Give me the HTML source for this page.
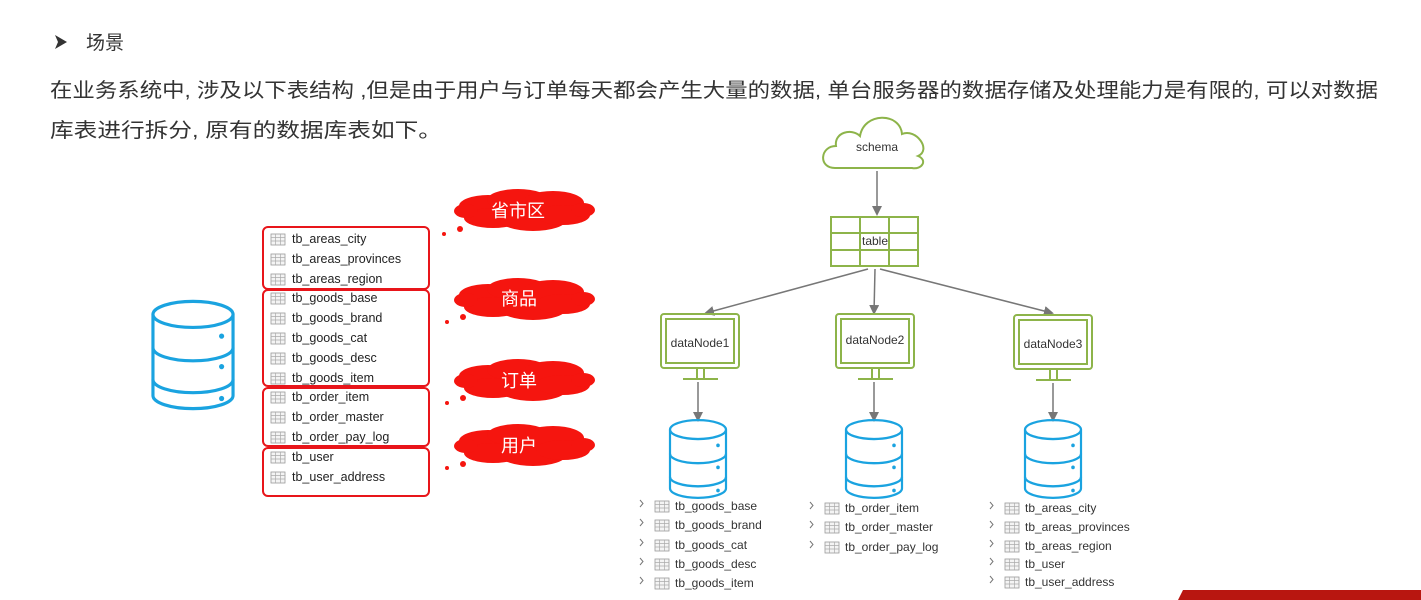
<!DOCTYPE html>
<html><head><meta charset="utf-8"><style>
html,body{margin:0;padding:0;background:#fff;width:1421px;height:600px;overflow:hidden}
svg{display:block}
.cn{font-family:"Liberation Sans","Noto Sans CJK SC",sans-serif}
.t{font-family:"Liberation Sans","Noto Sans CJK SC",sans-serif;font-size:12.5px;fill:#222}
.s{font-family:"Liberation Sans",sans-serif;font-size:12px;fill:#333}
</style></head><body>
<svg width="1421" height="600" viewBox="0 0 1421 600" xmlns="http://www.w3.org/2000/svg">
<defs>
<g id="ic"><rect x="0" y="-9" width="14" height="11" fill="#f4f4f4" stroke="#999" stroke-width="0.8"/><path d="M0 -5.5H14M0 -2H14M4.5 -9V2M9.5 -9V2" stroke="#aaa" stroke-width="0.7"/></g>
<g id="db" fill="none" stroke="#1aa3e0" stroke-width="2.2">
<path d="M-28 -28V28A28 9 0 0 0 28 28V-28"/><ellipse cx="0" cy="-28" rx="28" ry="9"/>
<path d="M-28 -5A28 9 0 0 0 28 -5M-28 17A28 9 0 0 0 28 17"/>
<circle cx="20" cy="-13" r="1.8" fill="#1aa3e0" stroke="none"/><circle cx="20" cy="8" r="1.8" fill="#1aa3e0" stroke="none"/><circle cx="20" cy="30" r="1.8" fill="#1aa3e0" stroke="none"/>
</g>
<g id="rc" fill="#f5150f">
<ellipse cx="0" cy="0" rx="60" ry="13"/><ellipse cx="-35" cy="-4" rx="29" ry="11"/><ellipse cx="-5" cy="-10" rx="31" ry="11"/><ellipse cx="30" cy="-7" rx="31" ry="12"/><ellipse cx="-30" cy="8" rx="29" ry="10"/><ellipse cx="10" cy="10" rx="33" ry="11"/><ellipse cx="40" cy="5" rx="27" ry="10"/><ellipse cx="-57" cy="1" rx="12" ry="7"/><ellipse cx="60" cy="0" rx="12" ry="7"/>
</g>
<g id="mon" fill="none" stroke="#8db44a" stroke-width="2">
<rect x="0" y="0" width="78" height="54" rx="3"/><rect x="5" y="5" width="68" height="44"/>
<path d="M36 54V64M43 54V64M22 65H57"/>
</g>
<marker id="ar" markerWidth="10" markerHeight="10" refX="8" refY="5" orient="auto" markerUnits="userSpaceOnUse"><path d="M0 0L10 5L0 10z" fill="#777"/></marker>
</defs>

<path d="M55 35L67 42L55 49L58 42z" fill="#333"/>
<text x="86" y="49" class="cn" font-size="19" fill="#333">场景</text>
<text x="50" y="97" class="cn" font-size="20" fill="#333" textLength="1328" lengthAdjust="spacingAndGlyphs">在业务系统中, 涉及以下表结构 ,但是由于用户与订单每天都会产生大量的数据, 单台服务器的数据存储及处理能力是有限的, 可以对数据</text>
<text x="50" y="137" class="cn" font-size="20" fill="#333" textLength="392" lengthAdjust="spacingAndGlyphs">库表进行拆分, 原有的数据库表如下。</text>

<use href="#db" transform="translate(193,355) scale(1.43,1.45)"/>

<g fill="none" stroke="#e8151a" stroke-width="2">
<rect x="263" y="227" width="166" height="62" rx="5"/>
<rect x="263" y="290" width="166" height="96" rx="5"/>
<rect x="263" y="388" width="166" height="58" rx="5"/>
<rect x="263" y="448" width="166" height="48" rx="5"/>
</g>
<g>
<use href="#ic" x="271" y="243"/><text x="292" y="243" class="t">tb_areas_city</text>
<use href="#ic" x="271" y="263"/><text x="292" y="263" class="t">tb_areas_provinces</text>
<use href="#ic" x="271" y="283"/><text x="292" y="283" class="t">tb_areas_region</text>
<use href="#ic" x="271" y="302"/><text x="292" y="302" class="t">tb_goods_base</text>
<use href="#ic" x="271" y="322"/><text x="292" y="322" class="t">tb_goods_brand</text>
<use href="#ic" x="271" y="342"/><text x="292" y="342" class="t">tb_goods_cat</text>
<use href="#ic" x="271" y="362"/><text x="292" y="362" class="t">tb_goods_desc</text>
<use href="#ic" x="271" y="382"/><text x="292" y="382" class="t">tb_goods_item</text>
<use href="#ic" x="271" y="401"/><text x="292" y="401" class="t">tb_order_item</text>
<use href="#ic" x="271" y="421"/><text x="292" y="421" class="t">tb_order_master</text>
<use href="#ic" x="271" y="441"/><text x="292" y="441" class="t">tb_order_pay_log</text>
<use href="#ic" x="271" y="461"/><text x="292" y="461" class="t">tb_user</text>
<use href="#ic" x="271" y="481"/><text x="292" y="481" class="t">tb_user_address</text>
</g>

<use href="#rc" x="523" y="210"/><use href="#rc" x="523" y="299"/><use href="#rc" x="523" y="380"/><use href="#rc" x="523" y="445"/>
<g fill="#f5150f">
<circle cx="444" cy="234" r="2"/><circle cx="460" cy="229" r="3"/>
<circle cx="447" cy="322" r="2"/><circle cx="463" cy="317" r="3"/>
<circle cx="447" cy="403" r="2"/><circle cx="463" cy="398" r="3"/>
<circle cx="447" cy="468" r="2"/><circle cx="463" cy="464" r="3"/>
</g>
<g class="cn" font-size="18" fill="#fff" text-anchor="middle">
<text x="518" y="217">省市区</text><text x="519" y="305">商品</text><text x="519" y="387">订单</text><text x="519" y="452">用户</text>
</g>

<path d="M835 168 C818 168 820 146 836 146 C834 132 852 128 860 136 C864 112 900 112 902 134 C916 128 932 150 918 156 C928 160 922 170 912 168 Z" fill="#fff" stroke="#8db44a" stroke-width="2"/>
<text x="877" y="151" class="s" font-size="13" text-anchor="middle">schema</text>
<line x1="877" y1="171" x2="877" y2="214" stroke="#777" stroke-width="1.5" marker-end="url(#ar)"/>

<g fill="none" stroke="#8db44a" stroke-width="2">
<rect x="831" y="217" width="87" height="49"/>
<path d="M831 233H918M831 250H918M860 217V266M889 217V266"/>
</g>
<text x="875" y="245" class="s" font-size="13" text-anchor="middle">table</text>
<g stroke="#777" stroke-width="1.5" marker-end="url(#ar)">
<line x1="868" y1="269" x2="706" y2="313"/>
<line x1="875" y1="269" x2="874" y2="313"/>
<line x1="880" y1="269" x2="1052" y2="313"/>
</g>

<use href="#mon" x="661" y="314"/><use href="#mon" x="836" y="314"/><use href="#mon" x="1014" y="315"/>
<g class="s" font-size="13.5" text-anchor="middle">
<text x="700" y="347">dataNode1</text><text x="875" y="344">dataNode2</text><text x="1053" y="348">dataNode3</text>
</g>
<g stroke="#777" stroke-width="1.5" marker-end="url(#ar)">
<line x1="698" y1="382" x2="698" y2="420"/><line x1="874" y1="382" x2="874" y2="420"/><line x1="1053" y1="383" x2="1053" y2="420"/>
</g>
<use href="#db" transform="translate(698,459) scale(1,1.05)"/>
<use href="#db" transform="translate(874,459) scale(1,1.05)"/>
<use href="#db" transform="translate(1053,459) scale(1,1.05)"/>

<g fill="none" stroke="#777" stroke-width="1">
<path d="M640 500l3 3.5l-3 3.5M640 519l3 3.5l-3 3.5M640 539l3 3.5l-3 3.5M640 558l3 3.5l-3 3.5M640 577l3 3.5l-3 3.5"/>
<path d="M810 502l3 3.5l-3 3.5M810 521l3 3.5l-3 3.5M810 541l3 3.5l-3 3.5"/>
<path d="M990 502l3 3.5l-3 3.5M990 521l3 3.5l-3 3.5M990 540l3 3.5l-3 3.5M990 558l3 3.5l-3 3.5M990 576l3 3.5l-3 3.5"/>
</g>
<g>
<use href="#ic" x="655" y="510"/><text x="675" y="510" class="s">tb_goods_base</text>
<use href="#ic" x="655" y="529"/><text x="675" y="529" class="s">tb_goods_brand</text>
<use href="#ic" x="655" y="549"/><text x="675" y="549" class="s">tb_goods_cat</text>
<use href="#ic" x="655" y="568"/><text x="675" y="568" class="s">tb_goods_desc</text>
<use href="#ic" x="655" y="587"/><text x="675" y="587" class="s">tb_goods_item</text>
<use href="#ic" x="825" y="512"/><text x="845" y="512" class="s">tb_order_item</text>
<use href="#ic" x="825" y="531"/><text x="845" y="531" class="s">tb_order_master</text>
<use href="#ic" x="825" y="551"/><text x="845" y="551" class="s">tb_order_pay_log</text>
<use href="#ic" x="1005" y="512"/><text x="1025" y="512" class="s">tb_areas_city</text>
<use href="#ic" x="1005" y="531"/><text x="1025" y="531" class="s">tb_areas_provinces</text>
<use href="#ic" x="1005" y="550"/><text x="1025" y="550" class="s">tb_areas_region</text>
<use href="#ic" x="1005" y="568"/><text x="1025" y="568" class="s">tb_user</text>
<use href="#ic" x="1005" y="586"/><text x="1025" y="586" class="s">tb_user_address</text>
</g>

<path d="M1178 600L1183 590H1421V600Z" fill="#b81610"/>
</svg>
</body></html>
